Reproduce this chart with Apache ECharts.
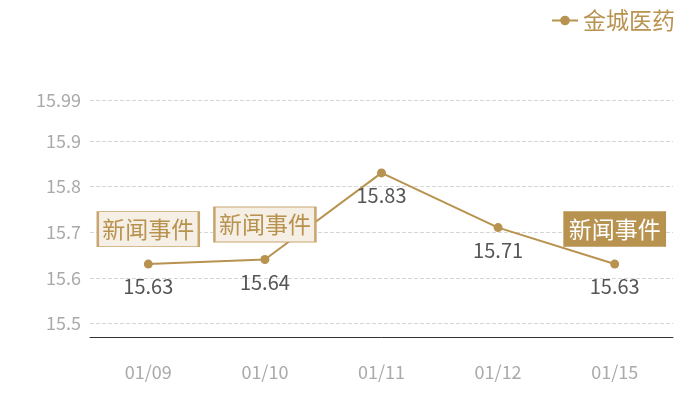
<!DOCTYPE html>
<html>
<head>
<meta charset="utf-8">
<script src="https://cdn.jsdelivr.net/npm/echarts@6/dist/echarts.min.js"></script>
<style>
  html, body { margin: 0; padding: 0; background: #fff; }
  #chart { width: 700px; height: 400px; }
</style>
</head>
<body>
<div id="chart"></div>
<script>
const seriesName = '金城医药';
const categories = ['01/09', '01/10', '01/11', '01/12', '01/15'];
const prices = [15.63, 15.64, 15.83, 15.71, 15.63];
// which points carry a news marker, and whether it is highlighted
const newsIndex = [0, 1, 4];
const newsActive = [false, false, true];
const newsText = '新闻事件';

const gold = '#b8924f';
const font = '"Noto Sans CJK SC", "Noto Sans", sans-serif';

const myChart = echarts.init(document.getElementById('chart'));

const markData = newsIndex.map((idx, i) => ({
  coord: [idx, prices[idx]],
  itemStyle: newsActive[i]
    ? { color: gold, borderColor: gold, borderWidth: 1 }
    : { color: '#f5efe6', borderColor: '#c9a56f', borderWidth: 1.5 },
  label: {
    color: newsActive[i] ? '#ffffff' : gold
  }
}));

const option = {
  animation: false,
  textStyle: { fontFamily: font },
  grid: {
    left: 90,
    right: 27,
    top: 100,
    bottom: 63
  },
  legend: {
    right: 20,
    top: 4,
    itemWidth: 26,
    itemHeight: 12,
    itemGap: 6,
    textStyle: {
      color: gold,
      fontSize: 23,
      fontFamily: font
    },
    data: [seriesName]
  },
  xAxis: {
    type: 'category',
    data: categories,
    axisTick: { show: false },
    axisLine: {
      lineStyle: { color: '#333', width: 1 }
    },
    axisLabel: {
      color: '#aaaaaa',
      fontSize: 18,
      margin: 26
    }
  },
  yAxis: {
    type: 'value',
    min: 15.47,
    max: 15.99,
    axisLine: { show: false },
    axisTick: { show: false },
    axisLabel: {
      color: '#aaaaaa',
      fontSize: 18,
      margin: 9,
      showMinLabel: false
    },
    splitLine: {
      lineStyle: {
        type: 'dashed',
        color: '#d6d6d6',
        width: 1
      }
    }
  },
  series: [
    {
      name: seriesName,
      type: 'line',
      data: prices,
      symbol: 'circle',
      symbolSize: 9,
      lineStyle: { color: gold, width: 2 },
      itemStyle: { color: gold },
      label: {
        show: true,
        position: 'bottom',
        distance: 8,
        color: '#555555',
        fontSize: 20
      },
      markPoint: {
        symbol: 'rect',
        symbolSize: [101, 35],
        symbolOffset: [0, -35],
        label: {
          show: true,
          position: 'inside',
          formatter: newsText,
          fontSize: 23,
          fontFamily: font
        },
        data: markData
      }
    }
  ]
};

myChart.setOption(option);
</script>
</body>
</html>
